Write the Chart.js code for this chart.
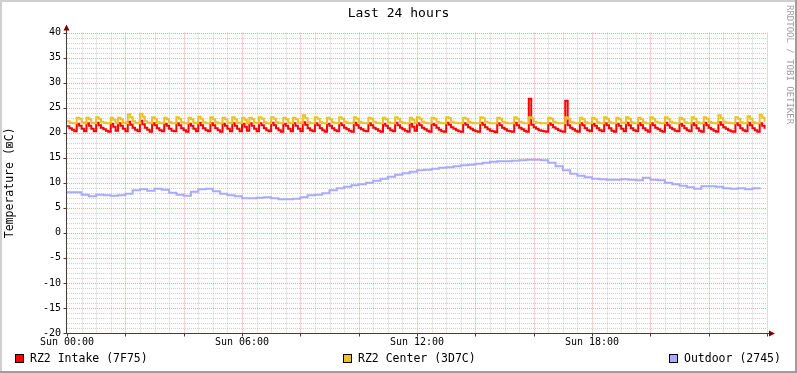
<!DOCTYPE html>
<html><head><meta charset="utf-8">
<script src="https://cdn.jsdelivr.net/npm/chart.js@4.4.1/dist/chart.umd.min.js"></script>
<style>html,body{margin:0;padding:0;background:#fff;}#wrap{width:797px;height:373px;}</style>
</head><body><div id="wrap"><canvas id="c" width="797" height="373"></canvas></div>
<script>
// ---- data ----
const chartTitle = 'Last 24 hours';
const yAxisTitle = 'Temperature (\u22A0C)';
const sideText = 'RRDTOOL / TOBI OETIKER';
const seriesNames = ['RZ2 Intake (7F75)', 'RZ2 Center (3D7C)', 'Outdoor (2745)'];
const xTickLabels = ['Sun 00:00', 'Sun 06:00', 'Sun 12:00', 'Sun 18:00'];
const sampleMinutesFast = 5;   // intake / center sample spacing
const sampleMinutesOutdoor = 15;

const intake = [
21.3,20.9,20.6,20.3, 21.8,21.4,20.8,20.3, 21.9,21.4,20.8,20.3, 22.0,21.5,21.0,20.7,20.4,20.2,
21.8,21.2,20.4, 21.9,21.4,20.8,20.3, 22.2,21.6,21.0,20.6,20.3, 22.4,21.7,21.0,20.6,20.2,
21.9,21.5,20.9,20.5,20.3, 21.8,21.4,20.8,20.4,20.3, 21.9,21.5,20.9,20.5,20.2, 21.8,21.4,20.8,20.3,
22.0,21.5,20.9,20.5,20.3, 21.9,21.5,20.9,20.5,20.2, 21.8,21.4,20.8,20.3, 21.9,21.4,20.8,20.3,

21.8,21.2,20.4, 21.9,21.4,20.8,20.3, 21.9,21.5,20.9,20.5,20.3, 22.0,21.5,20.9,20.5,20.2,
21.8,21.4,20.8,20.3, 21.9,21.4,20.8,20.3, 22.1,21.6,20.9,20.5,20.3, 21.9,21.5,20.9,20.5,20.2,
21.8,21.4,20.9,20.5,20.3, 21.9,21.5,21.0,20.7,20.4,20.2, 22.0,21.5,21.0,20.7,20.4,20.3,
21.9,21.5,21.0,20.7,20.4,20.2, 21.8,21.4,20.9,20.5,20.3, 22.0,21.5,21.0,20.7,20.4,20.2, 21.8,21.2,20.4,

21.9,21.5,21.0,20.7,20.4,20.2, 21.8,21.5,21.0,20.6,20.3,20.2, 22.0,21.6,21.1,20.8,20.5,20.3,20.2,
21.9,21.6,21.1,20.8,20.5,20.3,20.2, 22.0,21.6,21.1,20.7,20.4,20.3,20.1, 21.9,21.5,21.0,20.7,20.4,20.3,20.2,
22.0,21.5,21.0,20.7,20.4,20.2, 26.8,21.6,21.1,20.8,20.5,20.4,20.3,20.2, 21.9,21.6,21.1,20.8,20.5,20.3,20.2,
26.4,21.5,21.0,20.7,20.4,20.2, 21.9,21.5,20.9,20.5,20.3,

21.8,21.4,20.9,20.5,20.3, 21.9,21.5,20.9,20.4,20.2, 21.8,21.4,20.8,20.3, 22.0,21.5,20.9,20.5,20.3,
21.9,21.5,20.9,20.5,20.2, 21.9,21.5,21.0,20.7,20.4,20.2, 22.0,21.5,21.0,20.7,20.4,20.3,
21.8,21.4,20.9,20.5,20.3, 21.9,21.5,20.9,20.4,20.2, 22.0,21.5,21.0,20.7,20.4,20.2,
22.1,21.6,21.1,20.8,20.5,20.3,20.2, 21.9,21.5,20.9,20.5,20.3, 22.0,21.5,20.9,20.5,20.2, 21.9,21.4,20.8
];

const center = [
22.3,22.0,21.9,21.9, 23.0,22.8,22.1,21.9, 23.0,22.7,22.0,21.9, 23.1,22.8,22.2,22.0,21.9,21.9,
23.0,22.6,21.9, 23.0,22.7,22.0,21.9, 23.7,23.1,22.3,22.0,21.9, 23.8,23.2,22.3,22.0,21.9,
23.1,22.8,22.1,21.9,21.9, 23.0,22.7,22.1,21.9,21.9, 23.1,22.8,22.1,21.9,21.9, 23.0,22.7,22.0,21.9,
23.2,22.8,22.1,21.9,21.9, 23.1,22.7,22.1,21.9,21.9, 23.0,22.7,22.0,21.9, 23.1,22.7,22.0,21.9,

23.0,22.6,21.9, 23.0,22.7,22.0,21.9, 23.1,22.8,22.1,21.9,21.9, 23.1,22.8,22.1,21.9,21.9,
23.0,22.7,22.0,21.9, 23.0,22.7,22.0,21.9, 23.5,22.9,22.1,21.9,21.9, 23.1,22.8,22.1,21.9,21.9,
23.0,22.7,22.1,21.9,21.9, 23.1,22.8,22.2,22.0,21.9,21.9, 23.1,22.8,22.2,22.0,21.9,21.9,
23.0,22.8,22.2,22.0,21.9,21.9, 23.0,22.7,22.1,21.9,21.9, 23.1,22.8,22.2,22.0,21.9,21.9, 23.0,22.6,21.9,

23.1,22.8,22.2,22.0,21.9,21.9, 23.0,22.8,22.2,22.0,21.9,21.9, 23.1,22.9,22.2,22.0,22.0,21.9,21.9,
23.0,22.8,22.2,22.0,21.9,21.9,21.9, 23.1,22.9,22.2,22.0,21.9,21.9,21.9, 23.0,22.8,22.2,22.0,21.9,21.9,21.9,
23.1,22.8,22.2,22.0,21.9,21.9, 23.1,22.9,22.2,22.0,22.0,21.9,21.9,21.9, 23.0,22.8,22.2,22.0,21.9,21.9,21.9,
23.1,22.8,22.2,22.0,21.9,21.9, 23.0,22.7,22.1,21.9,21.9,

23.0,22.7,22.1,21.9,21.9, 23.1,22.8,22.1,21.9,21.9, 23.0,22.7,22.0,21.9, 23.1,22.8,22.1,21.9,21.9,
23.0,22.7,22.1,21.9,21.9, 23.1,22.8,22.2,22.0,21.9,21.9, 23.1,22.8,22.2,22.0,21.9,21.9,
23.0,22.7,22.1,21.9,21.9, 23.1,22.8,22.1,21.9,21.9, 23.1,22.8,22.2,22.0,21.9,21.9,
23.5,22.9,22.2,22.0,22.0,21.9,21.9, 23.1,22.8,22.1,21.9,21.9, 23.3,22.8,22.1,21.9,21.9, 23.6,23.0,22.2
];

const outdoor = [
8.1,8.1,7.6,7.3, 7.6,7.5,7.4,7.5, 7.8,8.5,8.7,8.4, 8.8,8.6,8.0,7.6,
7.4,8.2,8.7,8.8, 8.3,7.8,7.5,7.3, 6.9,6.9,7.0,7.1, 6.9,6.7,6.7,6.8,
7.1,7.5,7.6,7.9, 8.5,8.9,9.2,9.5, 9.7,10.0,10.4,10.8, 11.2,11.6,11.9,12.2,
12.5,12.6,12.8,13.0, 13.1,13.3,13.5,13.6, 13.8,14.0,14.2,14.3, 14.3,14.4,14.5,14.6,
14.6,14.5,14.0,13.3, 12.5,11.8,11.4,11.1, 10.8,10.7,10.6,10.6, 10.7,10.6,10.5,11.0,
10.6,10.5,10.0,9.7, 9.4,9.1,8.8,9.3, 9.3,9.2,8.9,8.8, 8.9,8.7,8.9,9.1
];

// ---- styles ----
const FONT = "'DejaVu Sans Mono', 'Liberation Mono', monospace";
const colors = ['#FF0000', '#E8C228', '#AAAAFF'];
const MINOR_GRID = 'rgba(150,150,150,0.45)';
const MAJOR_GRID = 'rgba(225,90,90,0.55)';
const AXIS_COLOR = '#4b3b3b';
const ARROW_COLOR = '#7F0000';

function toPoints(values, minutes) {
  return values.map((v, i) => ({ x: i * minutes / 60, y: v }));
}

const gridPlugin = {
  id: 'rrdGrid',
  beforeDatasetsDraw(chart) {
    const { ctx, chartArea: a, scales: { x, y } } = chart;
    ctx.save();
    ctx.lineWidth = 1;
    ctx.setLineDash([1, 1]);
    const vline = (v) => { const p = Math.round(x.getPixelForValue(v)) + 0.5; ctx.beginPath(); ctx.moveTo(p, a.top); ctx.lineTo(p, a.bottom); ctx.stroke(); };
    const hline = (v) => { const p = Math.round(y.getPixelForValue(v)) + 0.5; ctx.beginPath(); ctx.moveTo(a.left, p); ctx.lineTo(a.right, p); ctx.stroke(); };
    ctx.strokeStyle = MINOR_GRID;
    for (let v = x.min + 0.5; v < x.max + 0.01; v += 0.5) if (v % 2 !== 0) vline(v);
    for (let v = y.min + 1; v <= y.max; v += 1) if (v % 5 !== 0) hline(v);
    ctx.strokeStyle = MAJOR_GRID;
    for (let v = x.min + 2; v <= x.max; v += 2) vline(v);
    for (let v = y.min + 5; v <= y.max; v += 5) hline(v);
    ctx.restore();
  }
};

const axisPlugin = {
  id: 'rrdAxis',
  afterDatasetsDraw(chart) {
    const { ctx, chartArea: a, scales: { x, y } } = chart;
    const x0 = Math.round(a.left) - 0.5, y0 = Math.round(a.bottom) + 0.5;
    ctx.save();
    ctx.strokeStyle = AXIS_COLOR; ctx.lineWidth = 1;
    ctx.beginPath();
    ctx.moveTo(x0, y0); ctx.lineTo(x0, a.top - 4);
    ctx.moveTo(x0 - 2, y0); ctx.lineTo(a.right + 4, y0);
    for (let v = x.min; v <= x.max; v += 2) { const p = Math.round(x.getPixelForValue(v)) + 0.5; ctx.moveTo(p, y0); ctx.lineTo(p, y0 + 3); }
    for (let v = y.min; v <= y.max; v += 5) { const p = Math.round(y.getPixelForValue(v)) + 0.5; ctx.moveTo(x0 - 3, p); ctx.lineTo(x0, p); }
    ctx.stroke();
    ctx.fillStyle = ARROW_COLOR;
    ctx.beginPath();
    ctx.moveTo(x0, a.top - 8); ctx.lineTo(x0 - 3, a.top - 2); ctx.lineTo(x0 + 3, a.top - 2); ctx.closePath(); ctx.fill();
    ctx.beginPath();
    ctx.moveTo(a.right + 8, y0); ctx.lineTo(a.right + 2, y0 - 3); ctx.lineTo(a.right + 2, y0 + 3); ctx.closePath(); ctx.fill();
    ctx.restore();
  }
};

const framePlugin = {
  id: 'rrdFrame',
  beforeDraw(chart) {
    const { ctx, width: w, height: h } = chart;
    ctx.save();
    ctx.fillStyle = '#FFFFFF'; ctx.fillRect(0, 0, w, h);
    ctx.fillStyle = '#CFCFCF'; ctx.fillRect(0, 0, w, 2); ctx.fillRect(0, 0, 2, h);
    ctx.fillStyle = '#9E9E9E'; ctx.fillRect(0, h - 2, w, 2); ctx.fillRect(w - 2, 0, 2, h);
    ctx.restore();
  },
  afterDraw(chart) {
    const { ctx } = chart;
    ctx.save();
    const boxX = [15, 343, 669];
    ctx.font = '11.5px ' + FONT;
    ctx.textBaseline = 'middle';
    chart.data.datasets.forEach((ds, i) => {
      ctx.fillStyle = ds.borderColor; ctx.fillRect(boxX[i], 354, 9, 9);
      ctx.strokeStyle = '#000'; ctx.lineWidth = 1; ctx.strokeRect(boxX[i] + 0.5, 354.5, 8, 8);
      ctx.fillStyle = '#000'; ctx.fillText(ds.label, boxX[i] + 15, 359);
    });
    ctx.translate(789, 5); ctx.rotate(Math.PI / 2);
    ctx.font = '9px ' + FONT; ctx.fillStyle = '#A0A0A0'; ctx.textBaseline = 'middle';
    ctx.fillText(sideText, 0, 0);
    ctx.restore();
  }
};

new Chart(document.getElementById('c'), {
  type: 'line',
  data: {
    datasets: [
      { label: seriesNames[0], data: toPoints(intake, sampleMinutesFast), borderColor: colors[0], backgroundColor: colors[0], order: 3 },
      { label: seriesNames[1], data: toPoints(center, sampleMinutesFast), borderColor: colors[1], backgroundColor: colors[1], order: 2 },
      { label: seriesNames[2], data: toPoints(outdoor, sampleMinutesOutdoor), borderColor: colors[2], backgroundColor: colors[2], order: 1 }
    ]
  },
  options: {
    responsive: false,
    animation: false,
    devicePixelRatio: 1,
    layout: { padding: 0 },
    elements: { point: { radius: 0 }, line: { borderWidth: 2, stepped: true, tension: 0, borderCapStyle: 'butt', borderJoinStyle: 'miter' } },
    plugins: {
      legend: { display: false },
      tooltip: { enabled: false },
      title: { display: true, text: chartTitle, color: '#000', font: { family: FONT, size: 13, weight: 'normal' }, padding: { top: 6, bottom: 11 } }
    },
    scales: {
      x: {
        type: 'linear', min: 0, max: 24,
        grid: { display: false, drawTicks: false }, border: { display: false },
        ticks: { stepSize: 6, maxRotation: 0, color: '#000', padding: 3, font: { family: FONT, size: 10 },
          callback: (v) => (xTickLabels[v / 6] !== undefined ? xTickLabels[v / 6] : '') },
        afterFit(s) { s.height = 40; }
      },
      y: {
        type: 'linear', min: -20, max: 40,
        grid: { display: false, drawTicks: false }, border: { display: false },
        ticks: { stepSize: 5, color: '#000', padding: 6, font: { family: FONT, size: 10 }, callback: (v) => String(v) },
        title: { display: true, text: yAxisTitle, color: '#000', font: { family: FONT, size: 11.5 }, padding: { top: 3, bottom: 0 } },
        afterFit(s) { s.width = 67; }
      },
      yRightSpace: {
        type: 'linear', position: 'right', min: -20, max: 40,
        grid: { display: false, drawTicks: false }, border: { display: false },
        ticks: { display: false },
        afterFit(s) { s.width = 30; }
      }
    }
  },
  plugins: [framePlugin, gridPlugin, axisPlugin]
});
</script></body></html>
